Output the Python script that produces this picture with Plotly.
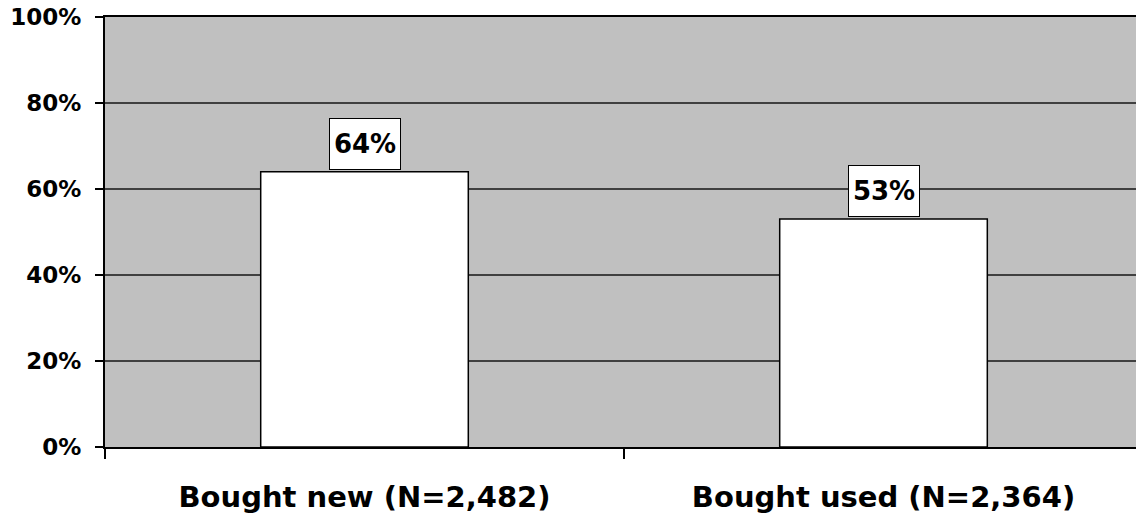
import plotly.graph_objects as go

categories = ["Bought new (N=2,482)", "Bought used (N=2,364)"]
values = [64, 53]
label_texts = ["64%", "53%"]
y_tickvals = [0, 20, 40, 60, 80, 100]
y_ticktext = ["0%", "20%", "40%", "60%", "80%", "100%"]

FONT = "DejaVu Sans"

fig = go.Figure()
fig.add_trace(go.Bar(
    x=categories, y=values, width=0.4,
    marker=dict(color="white", line=dict(color="black", width=1.5)),
    hoverinfo="skip", showlegend=False,
))

for c, v, t in zip(categories, values, label_texts):
    fig.add_annotation(
        x=c, y=v, text=t, showarrow=False, yanchor="bottom", yshift=2,
        width=70, height=50,
        bgcolor="white", bordercolor="black", borderwidth=1, borderpad=0,
        font=dict(family=FONT, size=26, color="black", weight="bold"),
    )

fig.update_layout(
    width=1136, height=518,
    margin=dict(l=105, r=0, t=17, b=71),
    paper_bgcolor="white", plot_bgcolor="#c0c0c0",
    bargap=0.6,
)
fig.update_xaxes(
    type="category", range=[-0.5, 1.4865], automargin=False,
    showline=True, mirror=True, linecolor="black", linewidth=2,
    ticks="outside", tickson="boundaries", ticklen=10, tickcolor="black", tickwidth=1.5,
    ticklabelstandoff=23,
    tickfont=dict(family=FONT, size=29, color="black", weight="bold"),
    showgrid=False,
)
fig.update_yaxes(
    range=[0, 100], tickvals=y_tickvals, ticktext=y_ticktext, automargin=False,
    showline=True, linecolor="black", linewidth=2,
    ticks="outside", ticklen=8, tickcolor="black", tickwidth=1.5,
    ticklabelstandoff=9,
    tickfont=dict(family=FONT, size=23, color="black", weight="bold"),
    showgrid=True, gridcolor="#404040", gridwidth=2, zeroline=False,
)
fig.write_html("out.html", config={"displayModeBar": False},
               post_script="document.body.style.margin='0';")
